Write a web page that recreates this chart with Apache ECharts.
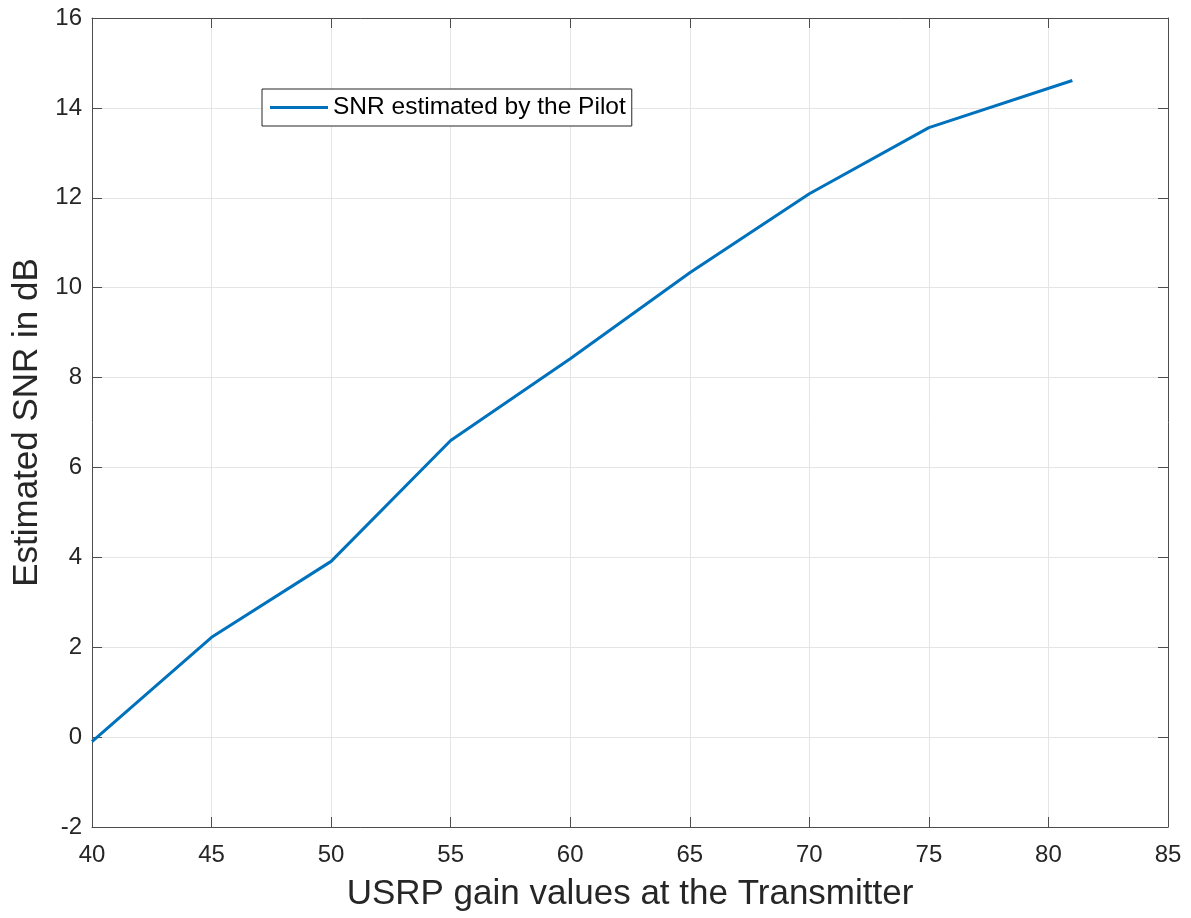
<!DOCTYPE html>
<html><head><meta charset="utf-8">
<script src="https://cdn.jsdelivr.net/npm/echarts@6/dist/echarts.min.js"></script>
<style>html,body{margin:0;padding:0;background:#fff}#c{width:1191px;height:918px}</style>
</head><body><div id="c"></div>
<script>
const gains = [40, 45, 50, 55, 60, 65, 70, 75, 81];
const snr = [-0.1, 2.22, 3.91, 6.6, 8.42, 10.33, 12.09, 13.56, 14.61];
const seriesName = 'SNR estimated by the Pilot';
const xTitle = 'USRP gain values at the Transmitter';
const yTitle = 'Estimated SNR in dB';

const font = 'Liberation Sans, Arial, sans-serif';
const axisCol = '#262626';
const chart = echarts.init(document.getElementById('c'));
const base = {
  axisLine: {show: true, onZero: false, lineStyle: {color: '#4d4d4d', width: 1}},
  axisTick: {show: true, inside: true, length: 10, lineStyle: {color: '#4d4d4d'}},
};
chart.setOption({
  animation: false,
  grid: {left: 92, top: 18, width: 1076, height: 809, outerBoundsMode: 'none', containLabel: false},
  legend: {
    left: 262, top: 89, orient: 'vertical',
    data: [seriesName],
    backgroundColor: '#fff',
    borderColor: '#262626', borderWidth: 1, borderRadius: 0,
    padding: [6, 6, 6, 8],
    icon: 'rect', itemWidth: 58, itemHeight: 3, itemGap: 0,
    textStyle: {fontFamily: font, fontSize: 24.5, color: '#000', padding: [0, 0, 0, 0]}
  },
  xAxis: [
    Object.assign({}, base, {
      type: 'value', min: 40, max: 85, interval: 5,
      name: xTitle, nameLocation: 'middle', nameGap: 50,
      nameTextStyle: {fontFamily: font, fontSize: 35, color: axisCol},
      axisLabel: {fontFamily: font, fontSize: 24, color: axisCol, margin: 16},
      splitLine: {show: true, lineStyle: {color: '#e5e5e5', width: 1}}
    }),
    Object.assign({}, base, {
      type: 'value', min: 40, max: 85, interval: 5, position: 'top',
      axisLabel: {show: false}, splitLine: {show: false}
    })
  ],
  yAxis: [
    Object.assign({}, base, {
      type: 'value', min: -2, max: 16, interval: 2,
      name: yTitle, nameLocation: 'middle', nameGap: 46,
      nameTextStyle: {fontFamily: font, fontSize: 35, color: axisCol},
      axisLabel: {fontFamily: font, fontSize: 24, color: axisCol, margin: 10},
      splitLine: {show: true, lineStyle: {color: '#e5e5e5', width: 1}}
    }),
    Object.assign({}, base, {
      type: 'value', min: -2, max: 16, interval: 2, position: 'right',
      axisLabel: {show: false}, splitLine: {show: false}
    })
  ],
  series: [{
    name: seriesName, type: 'line',
    data: gains.map((g, i) => [g, snr[i]]),
    showSymbol: false, symbol: 'none',
    lineStyle: {color: '#0072BD', width: 3},
    itemStyle: {color: '#0072BD'}
  }]
});
</script></body></html>
